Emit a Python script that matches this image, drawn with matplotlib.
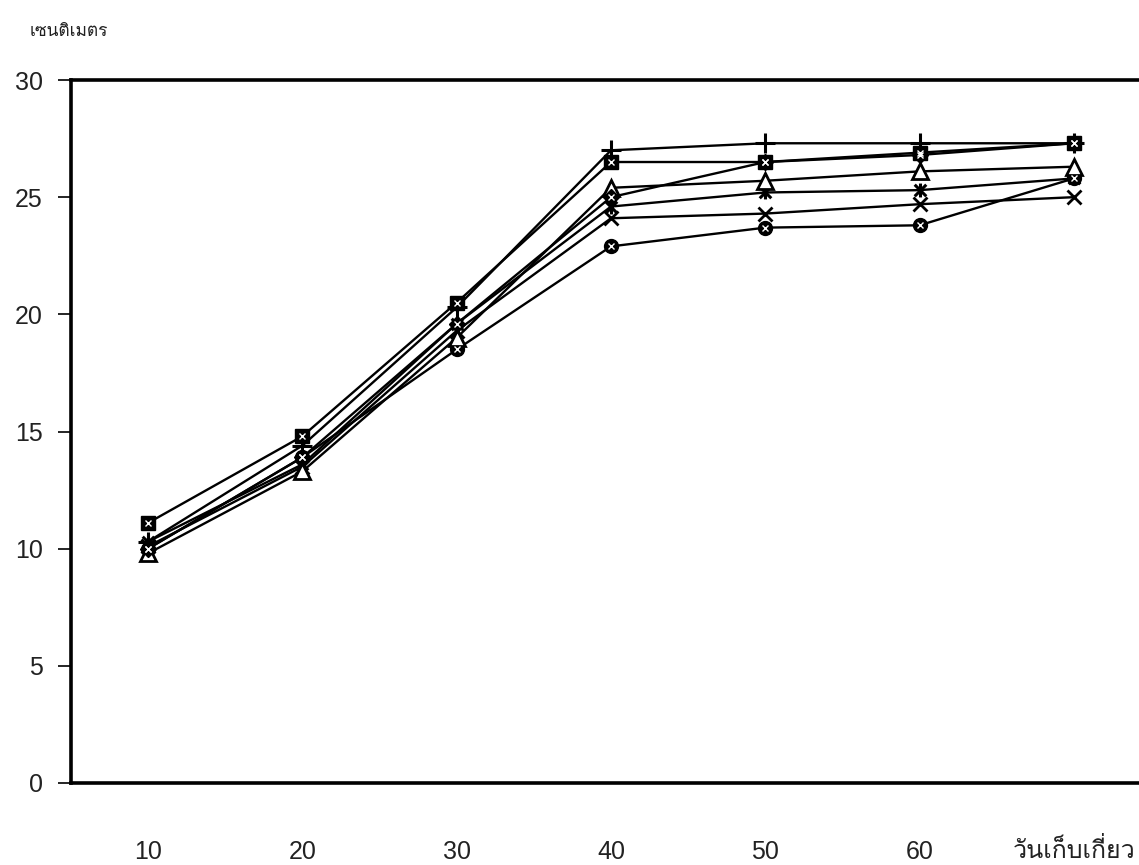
import matplotlib
matplotlib.use("Agg")
import matplotlib.pyplot as plt
from matplotlib import font_manager
from matplotlib.ft2font import FT2Font
from matplotlib.path import Path

# ---------------- data ----------------
x_labels = ["10", "20", "30", "40", "50", "60", ""]
x_title = "วันเก็บเกี่ยว"
y_label = "เซนติเมตร"

s_square   = [11.1, 14.8, 20.5, 26.5, 26.5, 26.9, 27.3]
s_plus     = [10.3, 14.4, 20.3, 27.0, 27.3, 27.3, 27.3]
s_diamond  = [10.0, 13.9, 19.6, 25.0, 26.5, 26.8, 27.3]
s_triangle = [9.8, 13.3, 19.0, 25.4, 25.7, 26.1, 26.3]
s_star     = [10.3, 13.6, 19.6, 24.6, 25.2, 25.3, 25.8]
s_cross    = [10.1, 13.5, 19.3, 24.1, 24.3, 24.7, 25.0]
s_circle   = [10.0, 13.9, 18.5, 22.9, 23.7, 23.8, 25.8]

y_ticks = [0, 5, 10, 15, 20, 25, 30]

# ---------------- fonts ----------------
thai_family = None
for f in font_manager.fontManager.ttflist:
    try:
        cm = FT2Font(f.fname).get_charmap()
    except Exception:
        continue
    if 0x0E40 in cm and 0x0E0B in cm and 0x0E27 in cm:
        thai_family = f.name
        break
latin = "Liberation Sans"
thai_fams = ([thai_family] if thai_family else []) + ["DejaVu Sans"]

plt.rcParams["font.family"] = [latin, "DejaVu Sans"]

# ---------------- figure ----------------
W, H = 1139, 865
fig = plt.figure(figsize=(W / 100, H / 100), dpi=100)
ax = fig.add_axes([71 / W, 82 / H, (1151 - 71) / W, (783 - 80) / H])

xs = list(range(len(x_labels)))

star_path = Path(
    [(-1, -1), (1, 1), (-1, 1), (1, -1), (0, -1.2), (0, 1.2)],
    [Path.MOVETO, Path.LINETO, Path.MOVETO, Path.LINETO, Path.MOVETO, Path.LINETO],
)

lw = 1.7
series = [
    (s_circle,   dict(marker="o", ms=10, mfc="black", mec="black"), True),
    (s_cross,    dict(marker="x", ms=10, mew=2.0, mec="black"), False),
    (s_star,     dict(marker=star_path, ms=10, mew=2.2, mec="black"), False),
    (s_triangle, dict(marker="^", ms=11, mfc="white", mec="black", mew=2.0), False),
    (s_diamond,  dict(marker="D", ms=8.5, mfc="black", mec="black"), True),
    (s_plus,     dict(marker="+", ms=15, mew=2.2, mec="black"), False),
    (s_square,   dict(marker="s", ms=10, mfc="black", mec="black"), True),
]
for vals, style, dotted in series:
    ax.plot(xs, vals, color="black", lw=lw, **style, zorder=3)
    if dotted:
        ax.plot(xs, vals, ls="none", marker="x", ms=4, mew=1.0,
                mec="white", zorder=4)

ax.set_xlim(-0.5, 6.5)
ax.set_ylim(0, 30)

ax.set_yticks(y_ticks)
ax.set_yticklabels([str(t) for t in y_ticks], fontsize=18, color="#222222")
ax.tick_params(axis="y", direction="out", length=9.5, width=1.2, pad=11)

ax.set_xticks(xs)
ax.set_xticklabels(x_labels, fontsize=18, color="#222222")
ax.tick_params(axis="x", length=0, pad=41)

for side in ["left", "bottom", "top"]:
    ax.spines[side].set_linewidth(2.6)
    ax.spines[side].set_color("black")
ax.spines["right"].set_visible(False)

fig.text(1136 / W, 1 - 850 / H, x_title, fontsize=18, family=thai_fams,
         va="center", ha="right", color="#222222")
fig.text(30 / W, 1 - 32 / H, y_label, fontsize=12.5, family=thai_fams,
         va="center", ha="left", color="#222222")

fig.savefig("out.png", dpi=100, facecolor="white")
